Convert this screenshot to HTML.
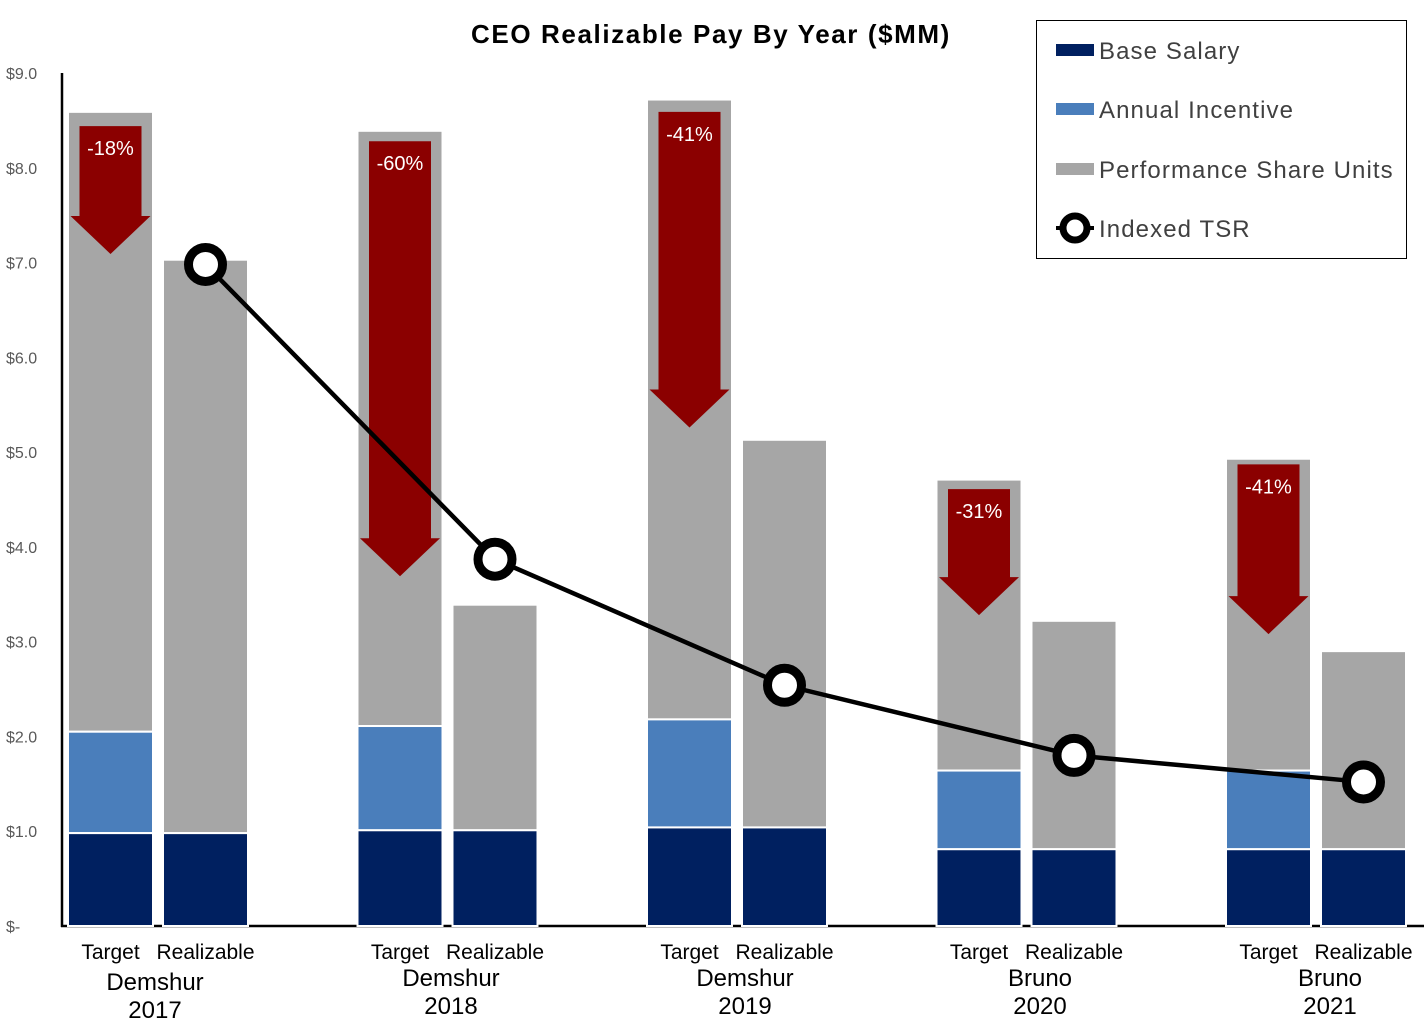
<!DOCTYPE html>
<html><head><meta charset="utf-8"><style>
body{margin:0;background:#fff;}
svg{display:block;font-family:"Liberation Sans",sans-serif;}
</style></head><body>
<svg id="chart" width="1424" height="1032" viewBox="0 0 1424 1032" xmlns="http://www.w3.org/2000/svg">
<text x="711" y="43" text-anchor="middle" font-size="26" font-weight="bold" letter-spacing="1.6" fill="#000">CEO Realizable Pay By Year ($MM)</text>
<g id="yaxis"></g>
<g id="bars"></g>
<g id="arrows"></g>
<g id="line"></g>
<g id="xlabels"></g>
<g>
<rect x="1036.5" y="20.5" width="370" height="238" fill="#fff" stroke="#000" stroke-width="1"/>
<rect x="1056" y="44" width="38" height="12" fill="#002060"/>
<text x="1099" y="59" font-size="24" letter-spacing="1.1" fill="#404040">Base Salary</text>
<rect x="1056" y="103" width="38" height="12" fill="#4A7EBB"/>
<text x="1099" y="118" font-size="24" letter-spacing="1.1" fill="#404040">Annual Incentive</text>
<rect x="1056" y="163" width="38" height="12" fill="#A6A6A6"/>
<text x="1099" y="178" font-size="24" letter-spacing="1.1" fill="#404040">Performance Share Units</text>
<line x1="1056" y1="228" x2="1094" y2="228" stroke="#000" stroke-width="4"/>
<circle cx="1075" cy="228" r="12" fill="#fff" stroke="#000" stroke-width="7"/>
<text x="1099" y="237" font-size="24" letter-spacing="1.1" fill="#404040">Indexed TSR</text>
</g>
</svg>
<script>
const groups=["Demshur|2017","Demshur|2018","Demshur|2019","Bruno|2020","Bruno|2021"];
const tgtBase=[0.98,1.01,1.04,0.81,0.81];
const tgtAI=[1.07,1.10,1.14,0.83,0.83];
const tgtTotal=[8.59,8.39,8.72,4.71,4.93];
const realBase=[0.98,1.01,1.04,0.81,0.81];
const realTotal=[7.03,3.39,5.13,3.22,2.90];
const tsr=[6.98,3.87,2.54,1.80,1.52];
const pctLabels=["-18%","-60%","-41%","-31%","-41%"];
const arrowTop=[8.44,8.28,8.59,4.61,4.87];
const arrowTip=[7.09,3.69,5.26,3.28,3.08];
const yTicks=[0,1,2,3,4,5,6,7,8,9];
const yTickLabels=["$-","$1.0","$2.0","$3.0","$4.0","$5.0","$6.0","$7.0","$8.0","$9.0"];

const NS="http://www.w3.org/2000/svg";
const y0=926,pxPer=(926-73)/9;
const Y=v=>y0-v*pxPer;
const X0=68,pitch=289.5,bw=85,gap=10;
const Xt=i=>X0+i*pitch, Xr=i=>X0+i*pitch+bw+gap;
const nameCx=[155,451,745,1040,1330];
function mk(tag,attrs,parent){const e=document.createElementNS(NS,tag);for(const k in attrs)e.setAttribute(k,attrs[k]);parent.appendChild(e);return e;}
const ya=document.getElementById('yaxis');
yTicks.forEach((t,i)=>{const e=mk('text',{x:6,y:Y(t)+6,'font-size':16,fill:'#595959'},ya);e.textContent=yTickLabels[i];

});
const bars=document.getElementById('bars');
function bar(x,v0,v1,fill,name){const r=mk('rect',{x:x,y:Y(v1),width:bw,height:Y(v0)-Y(v1),fill:fill,stroke:'#fff','stroke-width':2},bars);

}
groups.forEach((g,i)=>{
bar(Xt(i),tgtBase[i]+tgtAI[i],tgtTotal[i],'#A6A6A6','bar-target-psu');
bar(Xt(i),tgtBase[i],tgtBase[i]+tgtAI[i],'#4A7EBB','bar-target-ai');
bar(Xt(i),0,tgtBase[i],'#002060','bar-target-base');
bar(Xr(i),realBase[i],realTotal[i],'#A6A6A6','bar-realizable-psu');
bar(Xr(i),0,realBase[i],'#002060','bar-realizable-base');
});
mk('line',{x1:62,y1:73,x2:62,y2:927,stroke:'#000','stroke-width':2.5},ya);
mk('line',{x1:61,y1:926,x2:1424,y2:926,stroke:'#000','stroke-width':2.5},ya);
const ar=document.getElementById('arrows');
groups.forEach((g,i)=>{const c=Xt(i)+bw/2;const top=Y(arrowTop[i]),tip=Y(arrowTip[i]),hs=tip-38;
const p=mk('polygon',{points:`${c-31},${top} ${c+31},${top} ${c+31},${hs} ${c+40},${hs} ${c},${tip} ${c-40},${hs} ${c-31},${hs}`,fill:'#8B0000'},ar);


const t=mk('text',{x:c,y:top+29,'text-anchor':'middle','font-size':20,fill:'#fff'},ar);t.textContent=pctLabels[i];

});
const ln=document.getElementById('line');
const pts=tsr.map((v,i)=>`${Xr(i)+bw/2},${Y(v)}`).join(' ');
mk('polyline',{points:pts,fill:'none',stroke:'#000','stroke-width':4.5},ln);
tsr.forEach((v,i)=>{const c=mk('circle',{cx:Xr(i)+bw/2,cy:Y(v),r:17,fill:'#fff',stroke:'#000','stroke-width':9},ln);

});
const xl=document.getElementById('xlabels');
groups.forEach((g,i)=>{const [n,yr]=g.split('|');
const a=mk('text',{x:Xt(i)+bw/2,y:959,'text-anchor':'middle','font-size':21,fill:'#000'},xl);a.textContent='Target';


const b=mk('text',{x:Xr(i)+bw/2,y:959,'text-anchor':'middle','font-size':21,fill:'#000'},xl);b.textContent='Realizable';


const cx=nameCx[i];const off=i==0?4:0;
const c=mk('text',{x:cx,y:986+off,'text-anchor':'middle','font-size':24,fill:'#000'},xl);c.textContent=n;


const d=mk('text',{x:cx,y:1014+off,'text-anchor':'middle','font-size':24,fill:'#000'},xl);d.textContent=yr;

});
</script>
</body></html>
